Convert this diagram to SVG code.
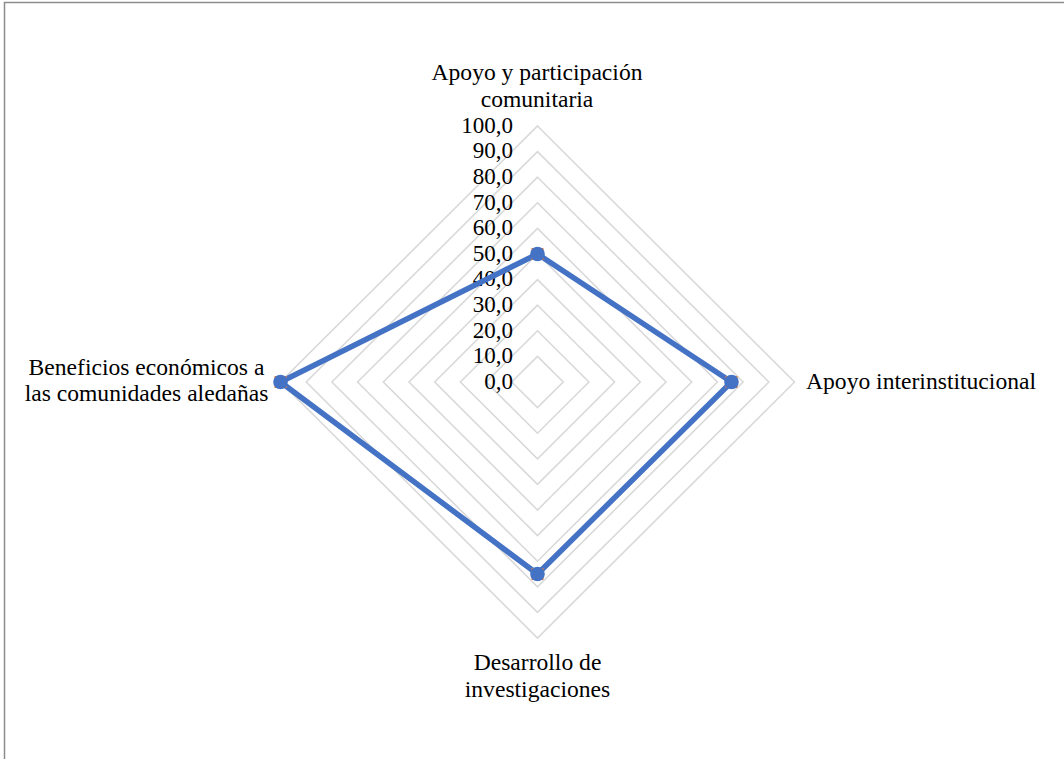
<svg xmlns="http://www.w3.org/2000/svg" width="1064" height="759" viewBox="0 0 1064 759">
<style>
text{font-family:"Liberation Serif","Times New Roman",serif;font-size:23.6px;fill:#000}
.tick{text-anchor:end;font-size:23px}
.mid{text-anchor:middle}
.grid{fill:none;stroke:#d9d9d9;stroke-width:1.6}
.series{fill:none;stroke:#4472c4;stroke-width:5.5;stroke-linejoin:round}
.sq{fill:#ed7d31}
.dot{fill:#4472c4}
</style>
<rect width="1064" height="759" fill="#fff"/>
<rect x="4.5" y="2.5" width="1080" height="780" fill="none" stroke="#8c8c8c" stroke-width="1.5"/>
<g id="grid">
<polygon class="grid" points="537.5,356.4 563.2,382 537.5,407.6 511.8,382"/>
<polygon class="grid" points="537.5,330.8 588.9,382 537.5,433.2 486.1,382"/>
<polygon class="grid" points="537.5,305.2 614.6,382 537.5,458.8 460.4,382"/>
<polygon class="grid" points="537.5,279.6 640.3,382 537.5,484.4 434.7,382"/>
<polygon class="grid" points="537.5,254 666,382 537.5,510 409,382"/>
<polygon class="grid" points="537.5,228.4 691.7,382 537.5,535.6 383.3,382"/>
<polygon class="grid" points="537.5,202.8 717.4,382 537.5,561.2 357.6,382"/>
<polygon class="grid" points="537.5,177.2 743.1,382 537.5,586.8 331.9,382"/>
<polygon class="grid" points="537.5,151.6 768.8,382 537.5,612.4 306.2,382"/>
<polygon class="grid" points="537.5,126 794.5,382 537.5,638 280.5,382"/>
</g>
<g id="ticks">
<text class="tick" x="513" y="388.7">0,0</text>
<text class="tick" x="513" y="363.1">10,0</text>
<text class="tick" x="513" y="337.5">20,0</text>
<text class="tick" x="513" y="311.9">30,0</text>
<text class="tick" x="513" y="286.3">40,0</text>
<text class="tick" x="513" y="260.7">50,0</text>
<text class="tick" x="513" y="235.1">60,0</text>
<text class="tick" x="513" y="209.5">70,0</text>
<text class="tick" x="513" y="183.9">80,0</text>
<text class="tick" x="513" y="158.3">90,0</text>
<text class="tick" x="513" y="132.7">100,0</text>
</g>
<g id="connectors">
<polygon class="series" points="537.5,254 731.5,382 537.5,574 280.5,382"/>
</g>
<g id="node-apoyo-participacion">
<rect class="sq" x="531.5" y="248" width="12" height="12"/>
<circle class="dot" cx="537.5" cy="254" r="7.3"/>
<text class="mid" x="537" y="80">Apoyo y participación</text>
<text class="mid" x="537" y="106.5">comunitaria</text>
</g>
<g id="node-apoyo-interinstitucional">
<rect class="sq" x="725.5" y="376" width="12" height="12"/>
<circle class="dot" cx="731.5" cy="382" r="7.3"/>
<text x="806" y="389">Apoyo interinstitucional</text>
</g>
<g id="node-desarrollo">
<rect class="sq" x="531.5" y="568" width="12" height="12"/>
<circle class="dot" cx="537.5" cy="574" r="7.3"/>
<text class="mid" x="537.5" y="670">Desarrollo de</text>
<text class="mid" x="537.5" y="696.5">investigaciones</text>
</g>
<g id="node-beneficios">
<rect class="sq" x="274.5" y="376" width="12" height="12"/>
<circle class="dot" cx="280.5" cy="382" r="7.3"/>
<text class="mid" x="146.5" y="374.5">Beneficios económicos a</text>
<text class="mid" x="146.5" y="401">las comunidades aledañas</text>
</g>
</svg>
